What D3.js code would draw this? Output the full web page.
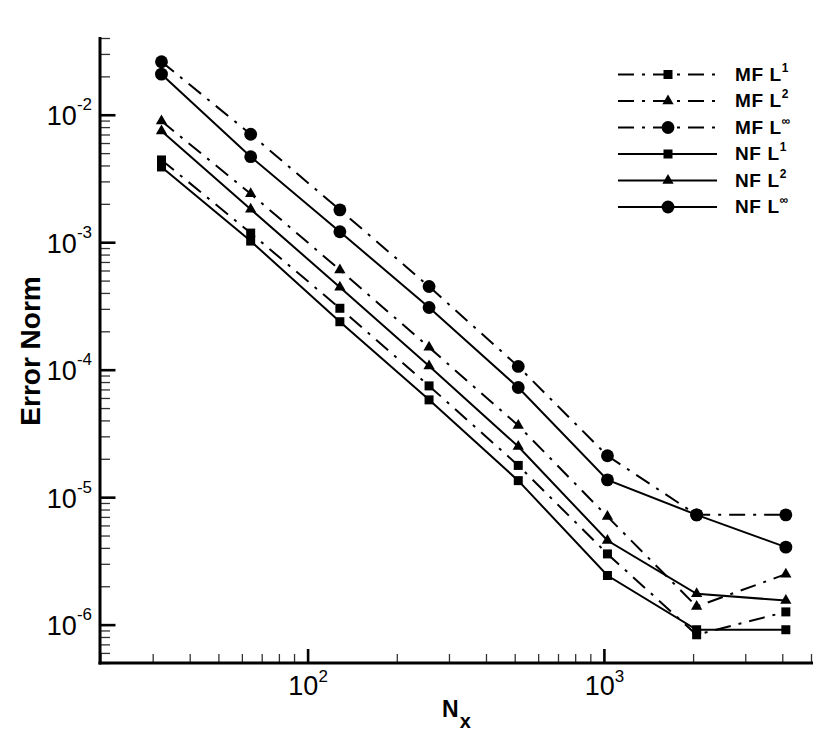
<!DOCTYPE html>
<html>
<head>
<meta charset="utf-8">
<script src="https://cdn.jsdelivr.net/npm/d3@7/dist/d3.min.js"></script>
<style>
  body { margin: 0; background: #fff; }
  svg { display: block; font-family: "Liberation Sans", Arial, Helvetica, sans-serif; }
</style>
</head>
<body>
<svg id="chart" width="830" height="739"></svg>
<script>
// grid sizes and error norms
const nx = [32, 64, 128, 256, 512, 1024, 2048, 4096];
const mfL1 = [4.46e-3, 1.19e-3, 3.06e-4, 7.53e-5, 1.79e-5, 3.62e-6, 8.4e-7, 1.27e-6];
const mfL2 = [9.0e-3, 2.42e-3, 6.12e-4, 1.51e-4, 3.68e-5, 7.1e-6, 1.40e-6, 2.51e-6];
const mfLinf = [2.63e-2, 7.1e-3, 1.81e-3, 4.53e-4, 1.07e-4, 2.13e-5, 7.33e-6, 7.33e-6];
const nfL1 = [3.93e-3, 1.03e-3, 2.40e-4, 5.85e-5, 1.36e-5, 2.45e-6, 9.2e-7, 9.2e-7];
const nfL2 = [7.53e-3, 1.83e-3, 4.48e-4, 1.08e-4, 2.52e-5, 4.61e-6, 1.76e-6, 1.56e-6];
const nfLinf = [2.10e-2, 4.73e-3, 1.22e-3, 3.10e-4, 7.31e-5, 1.38e-5, 7.33e-6, 4.09e-6];

const seriesNames = ["MF", "MF", "MF", "NF", "NF", "NF"];
const seriesNorms = ["1", "2", "\u221E", "1", "2", "\u221E"];

const xMajor = [100, 1000];
const xMajorExp = ["2", "3"];
const yMajor = [1e-6, 1e-5, 1e-4, 1e-3, 1e-2];
const yMajorExp = ["-6", "-5", "-4", "-3", "-2"];

const svg = d3.select("#chart");

const x = d3.scaleLog().domain([20, 5000]).range([101, 811.5]);
const y = d3.scaleLog().domain([5e-7, 0.04]).range([663.5, 38.5]);

const series = [
  { vals: mfL1, dash: true, sym: d3.symbolSquare, size: 81 },
  { vals: mfL2, dash: true, sym: d3.symbolTriangle, size: 55 },
  { vals: mfLinf, dash: true, sym: d3.symbolCircle, size: 130 },
  { vals: nfL1, dash: false, sym: d3.symbolSquare, size: 81 },
  { vals: nfL2, dash: false, sym: d3.symbolTriangle, size: 55 },
  { vals: nfLinf, dash: false, sym: d3.symbolCircle, size: 130 },
];
const dashPattern = "16,8,3,8";

// minor ticks: 2..9 of every decade inside the domain
function minorTicks(lo, hi) {
  const out = [];
  for (let e = Math.floor(Math.log10(lo)); e <= Math.ceil(Math.log10(hi)); e++) {
    for (let m = 2; m <= 9; m++) {
      const v = m * Math.pow(10, e);
      if (v >= lo * 0.999 && v <= hi * 1.001) out.push(v);
    }
  }
  return out;
}

const axisG = svg.append("g");

// y ticks (pointing inward)
axisG.selectAll(".ymin").data(minorTicks(5e-7, 0.04)).join("line")
  .attr("x1", 100).attr("x2", 110)
  .attr("y1", d => y(d)).attr("y2", d => y(d))
  .attr("stroke", "#333").attr("stroke-width", 1.3);
axisG.selectAll(".ymaj").data(yMajor).join("line")
  .attr("x1", 100).attr("x2", 115.5)
  .attr("y1", d => y(d)).attr("y2", d => y(d))
  .attr("stroke", "#000").attr("stroke-width", 2.6);

// x ticks (pointing up)
axisG.selectAll(".xmin").data(minorTicks(20, 5000)).join("line")
  .attr("x1", d => x(d)).attr("x2", d => x(d))
  .attr("y1", 663).attr("y2", 654)
  .attr("stroke", "#333").attr("stroke-width", 1.3);
axisG.selectAll(".xmaj").data(xMajor).join("line")
  .attr("x1", d => x(d)).attr("x2", d => x(d))
  .attr("y1", 663).attr("y2", 649)
  .attr("stroke", "#000").attr("stroke-width", 2.6);

// axis lines
axisG.append("line").attr("x1", 100).attr("x2", 100).attr("y1", 37).attr("y2", 664.5)
  .attr("stroke", "#000").attr("stroke-width", 3);
axisG.append("line").attr("x1", 98.5).attr("x2", 813).attr("y1", 663).attr("y2", 663)
  .attr("stroke", "#000").attr("stroke-width", 3);

// y tick labels
const yl = axisG.selectAll(".ylab").data(yMajor).join("text")
  .attr("x", 92).attr("y", d => y(d) + 10)
  .attr("text-anchor", "end")
  .attr("font-size", 27);
yl.append("tspan").text("10");
yl.append("tspan").attr("dy", -15).attr("font-size", 17).text((d, i) => yMajorExp[i]);

// x tick labels
const xl = axisG.selectAll(".xlab").data(xMajor).join("text")
  .attr("x", d => x(d)).attr("y", 695)
  .attr("text-anchor", "middle")
  .attr("font-size", 27);
xl.append("tspan").text("10");
xl.append("tspan").attr("dy", -13).attr("font-size", 17).text((d, i) => xMajorExp[i]);

// axis titles
svg.append("text")
  .attr("transform", "translate(40,351) rotate(-90)")
  .attr("text-anchor", "middle")
  .attr("font-size", 28).attr("font-weight", "bold")
  .text("Error Norm");
const xt = svg.append("text")
  .attr("x", 442).attr("y", 717)
  .attr("font-size", 23).attr("font-weight", "bold");
xt.append("tspan").text("N");
xt.append("tspan").attr("dy", 11).attr("dx", 1).attr("font-size", 20).text("x");

// lines + markers
const line = d3.line().x((d, i) => x(nx[i])).y(d => y(d));
const plotG = svg.append("g");
series.forEach(s => {
  plotG.append("path")
    .attr("d", line(s.vals))
    .attr("fill", "none")
    .attr("stroke", "#000")
    .attr("stroke-width", 2)
    .attr("stroke-dasharray", s.dash ? dashPattern : null);
  plotG.selectAll(null).data(s.vals).join("path")
    .attr("d", d3.symbol().type(s.sym).size(s.size))
    .attr("transform", (d, i) => `translate(${x(nx[i])},${y(d)})`)
    .attr("fill", "#000");
});

// legend
const leg = svg.append("g");
series.forEach((s, i) => {
  const ly = 74.5 + i * 26.5;
  leg.append("line")
    .attr("x1", 618).attr("x2", 717).attr("y1", ly).attr("y2", ly)
    .attr("stroke", "#000").attr("stroke-width", 2)
    .attr("stroke-dasharray", s.dash ? dashPattern : null);
  leg.append("path")
    .attr("d", d3.symbol().type(s.sym).size(s.size))
    .attr("transform", `translate(668,${ly})`)
    .attr("fill", "#000");
  const t = leg.append("text")
    .attr("x", 735).attr("y", ly + 6)
    .attr("font-size", 19).attr("font-weight", "bold")
    .attr("letter-spacing", 0.6);
  t.append("tspan").text(seriesNames[i] + " L");
  t.append("tspan").attr("dy", -9).attr("font-size", 12)
    .attr("letter-spacing", 0).text(seriesNorms[i]);
});
</script>
</body>
</html>
